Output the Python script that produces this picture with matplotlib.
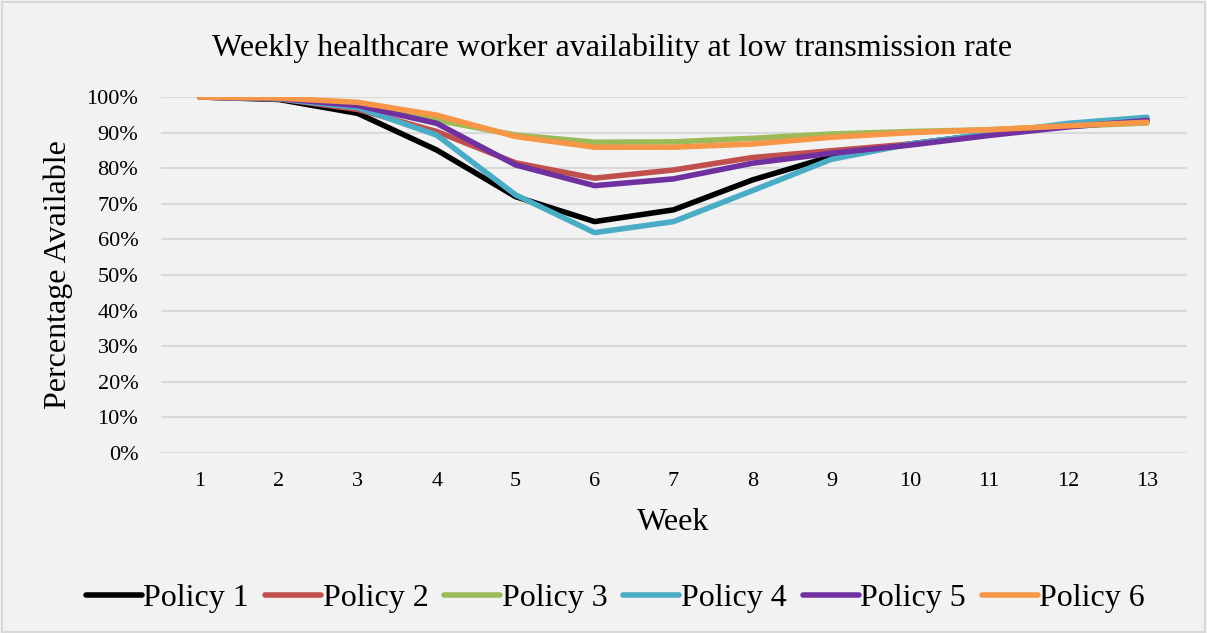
import matplotlib
matplotlib.use("Agg")
import matplotlib.pyplot as plt
from matplotlib.patches import Rectangle

weeks = [1, 2, 3, 4, 5, 6, 7, 8, 9, 10, 11, 12, 13]
policy1 = [100, 99.3, 95.4, 85.1, 72.0, 65.0, 68.3, 76.7, 83.3, 86.8, 89.6, 91.8, 93.5]
policy2 = [100, 99.5, 96.5, 90.3, 81.5, 77.2, 79.5, 83.0, 84.9, 86.8, 89.5, 91.8, 93.2]
policy3 = [100, 99.6, 97.2, 93.5, 89.3, 87.3, 87.4, 88.4, 89.6, 90.3, 90.8, 91.8, 92.7]
policy4 = [100, 99.5, 97.0, 89.3, 72.5, 61.9, 65.0, 73.7, 82.5, 86.8, 89.7, 92.6, 94.3]
policy5 = [100, 99.6, 97.6, 92.6, 80.9, 75.1, 77.0, 81.4, 84.2, 86.5, 89.2, 91.6, 93.4]
policy6 = [100, 99.7, 98.5, 94.9, 88.9, 85.9, 85.9, 86.8, 88.7, 90.0, 90.8, 91.9, 92.9]
series = [policy1, policy2, policy3, policy4, policy5, policy6]
labels = ["Policy 1", "Policy 2", "Policy 3", "Policy 4", "Policy 5", "Policy 6"]
colors = ["#000000", "#c0504d", "#9bbb59", "#4bacc6", "#7030a0", "#f79646"]
yticks = list(range(0, 101, 10))

plt.rcParams['font.family'] = ['Liberation Serif', 'DejaVu Serif']

fig = plt.figure(figsize=(12.07, 6.33), dpi=100, facecolor="#f2f2f2")
fig.patches.append(Rectangle((0.002, 0.002), 0.996, 0.995, transform=fig.transFigure,
                             fill=False, edgecolor="#d9d9d9", linewidth=1.5))
ax = fig.add_axes([160.5/1207, 1-453/633, (1186.5-160.5)/1207, (453-97)/633])
ax.set_facecolor("#f2f2f2")

for s, lab, c in zip(series, labels, colors):
    ax.plot(weeks, s, color=c, linewidth=4.0, label=lab, solid_capstyle='round', solid_joinstyle='round')

ax.set_xlim(0.5, 13.5)
ax.set_ylim(0, 100)
ax.set_xticks(weeks)
ax.set_xticklabels([str(w) for w in weeks], fontsize=16)
ax.set_yticks(yticks)
ax.set_yticklabels([f"{t}%" for t in yticks], fontsize=16)
ax.tick_params(axis='x', length=0, pad=14)
ax.tick_params(axis='y', length=0, pad=16)
for sp in ax.spines.values():
    sp.set_visible(False)
ax.grid(axis='y', color="#d9d9d9", linewidth=1.5)
ax.set_axisbelow(True)

ax.set_xlabel("Week", fontsize=23, labelpad=12)
ax.set_ylabel("Percentage Available", fontsize=23, labelpad=10)
fig.text(0.507, 1-48/633, "Weekly healthcare worker availability at low transmission rate",
         ha='center', va='center', fontsize=23)

fig.legend(loc='center', bbox_to_anchor=(0.51, 1-598/633), ncol=6, frameon=False,
           fontsize=23, handlelength=1.75, handletextpad=0.05, columnspacing=0.5)

fig.savefig("out.png", dpi=100, facecolor=fig.get_facecolor())
